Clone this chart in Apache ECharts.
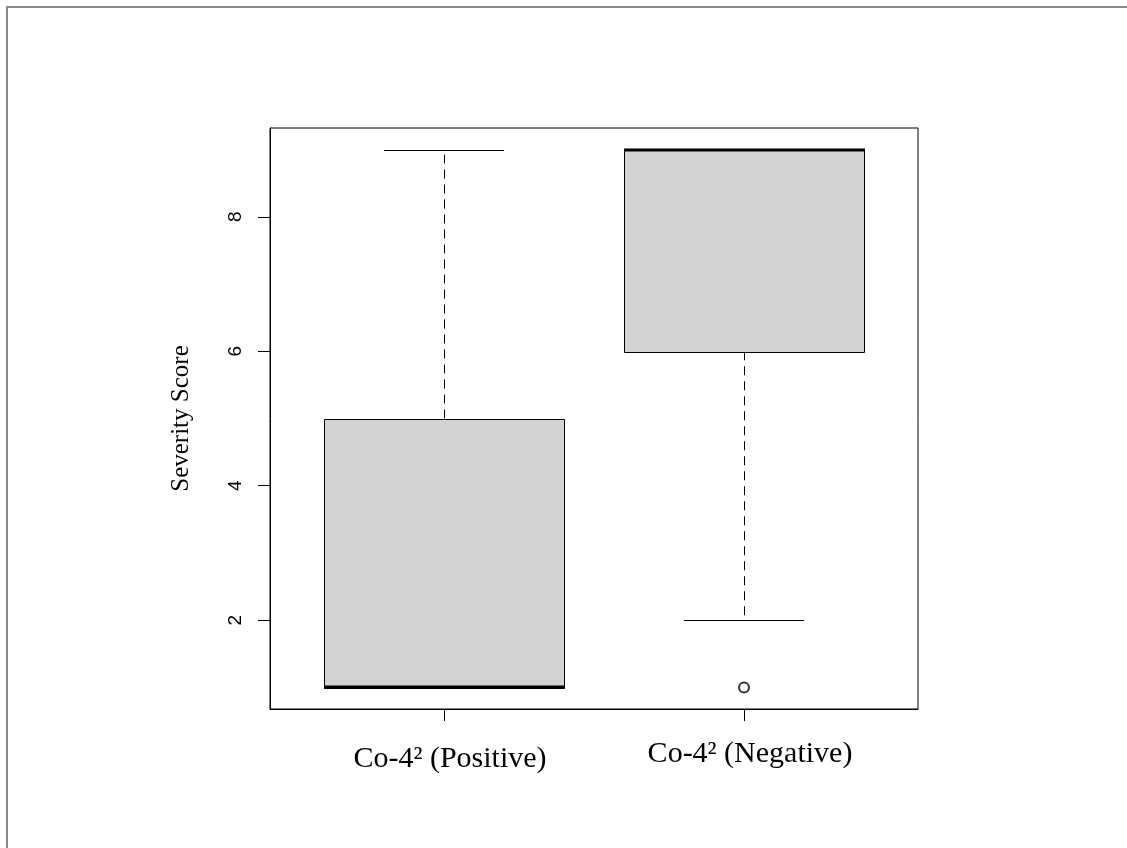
<!DOCTYPE html>
<html>
<head>
<meta charset="utf-8">
<script src="https://cdn.jsdelivr.net/npm/echarts@6/dist/echarts.min.js"></script>
<style>
  html, body { margin: 0; padding: 0; background: #fff; }
  #chart { width: 1127px; height: 848px; }
</style>
</head>
<body>
<div id="chart"></div>
<script>
// ---- data ----
const categories = ['Co-4\u00B2 (Positive)', 'Co-4\u00B2 (Negative)'];
const positions = [1, 2];
const whiskerLow = [1, 2];
const q1 = [1, 6];
const median = [1, 9];
const q3 = [5, 9];
const whiskerHigh = [9, 9];
const outlierPos = [2];
const outlierVal = [1];
const yTicks = [2, 4, 6, 8];
const yTitle = 'Severity Score';

// ---- build ----
const boxData = positions.map((p, i) => [p, whiskerLow[i], q1[i], median[i], q3[i], whiskerHigh[i]]);
const outlierData = outlierPos.map((p, i) => [p, outlierVal[i]]);

function px(v) { return Math.round(v) + 0.5; }

function renderBox(params, api) {
  const x = api.value(0);
  const lo = api.coord([x, api.value(1)]);
  const b1 = api.coord([x, api.value(2)]);
  const md = api.coord([x, api.value(3)]);
  const b3 = api.coord([x, api.value(4)]);
  const hi = api.coord([x, api.value(5)]);
  const left = api.coord([x - 0.4, 0])[0];
  const right = api.coord([x + 0.4, 0])[0];
  const capL = api.coord([x - 0.2, 0])[0];
  const capR = api.coord([x + 0.2, 0])[0];
  const cx = px(lo[0]);
  const dash = { stroke: '#000', lineWidth: 1, lineDash: [9, 6] };
  const solid = { stroke: '#000', lineWidth: 1 };
  const children = [
    { type: 'line', shape: { x1: cx, y1: b3[1], x2: cx, y2: hi[1] }, style: dash },
    { type: 'line', shape: { x1: cx, y1: b1[1], x2: cx, y2: lo[1] }, style: dash },
    { type: 'line', shape: { x1: Math.round(capL), y1: px(hi[1]), x2: Math.round(capR), y2: px(hi[1]) }, style: solid },
    { type: 'line', shape: { x1: Math.round(capL), y1: px(lo[1]), x2: Math.round(capR), y2: px(lo[1]) }, style: solid },
    { type: 'rect', shape: { x: px(left), y: px(b3[1]), width: Math.round(right - left), height: Math.round(b1[1] - b3[1]) },
      style: { fill: '#D3D3D3', stroke: '#000', lineWidth: 1 } },
    { type: 'line', shape: { x1: Math.round(left), y1: Math.round(md[1]), x2: Math.round(right) + 1, y2: Math.round(md[1]) },
      style: { stroke: '#000', lineWidth: 3 } }
  ];
  return { type: 'group', children: children };
}

const chart = echarts.init(document.getElementById('chart'), null, { renderer: 'canvas' });
chart.setOption({
  backgroundColor: '#fff',
  animation: false,
  graphic: [
    { type: 'rect', shape: { x: 7, y: 7, width: 1300, height: 1000 },
      style: { fill: 'none', stroke: '#8a8a8a', lineWidth: 2 }, silent: true }
  ],
  grid: {
    left: 270, right: 209, top: 128, bottom: 139,
    show: true, borderColor: '#000', borderWidth: 1, backgroundColor: 'transparent'
  },
  xAxis: {
    type: 'value', min: 0.42, max: 2.58,
    splitLine: { show: false },
    axisLine: { show: true, lineStyle: { color: '#000', width: 1 } },
    axisTick: { show: true, customValues: positions, length: 12, lineStyle: { color: '#000' } },
    axisLabel: {
      show: true, customValues: positions, margin: 30,
      formatter: function (v) { const i = Math.round(v) - 1; return '{c' + i + '|' + categories[i] + '}'; },
      rich: {
        c0: { fontFamily: 'Liberation Serif', fontSize: 30, color: '#000', padding: [5, 0, 0, 12] },
        c1: { fontFamily: 'Liberation Serif', fontSize: 30, color: '#000', padding: [0, 0, 0, 12] }
      }
    }
  },
  yAxis: {
    type: 'value', min: 0.68, max: 9.32,
    name: yTitle, nameLocation: 'middle', nameGap: 76, nameRotate: 90,
    nameTextStyle: { fontFamily: 'Liberation Serif', fontSize: 25, color: '#000' },
    splitLine: { show: false },
    axisLine: { show: true, lineStyle: { color: '#000', width: 1 } },
    axisTick: { show: true, customValues: yTicks, length: 12, lineStyle: { color: '#000' } },
    axisLabel: {
      show: true, customValues: yTicks, rotate: 90, margin: 25,
      fontFamily: 'Liberation Sans', fontSize: 19, color: '#000'
    }
  },
  series: [
    {
      type: 'custom', renderItem: renderBox, data: boxData,
      encode: { x: 0, y: [1, 2, 3, 4, 5] }, clip: false, z: 2
    },
    {
      type: 'scatter', data: outlierData, symbol: 'circle', symbolSize: 10,
      itemStyle: { color: 'rgba(0,0,0,0)', borderColor: '#000', borderWidth: 2 }, z: 3
    }
  ]
});
</script>
</body>
</html>
